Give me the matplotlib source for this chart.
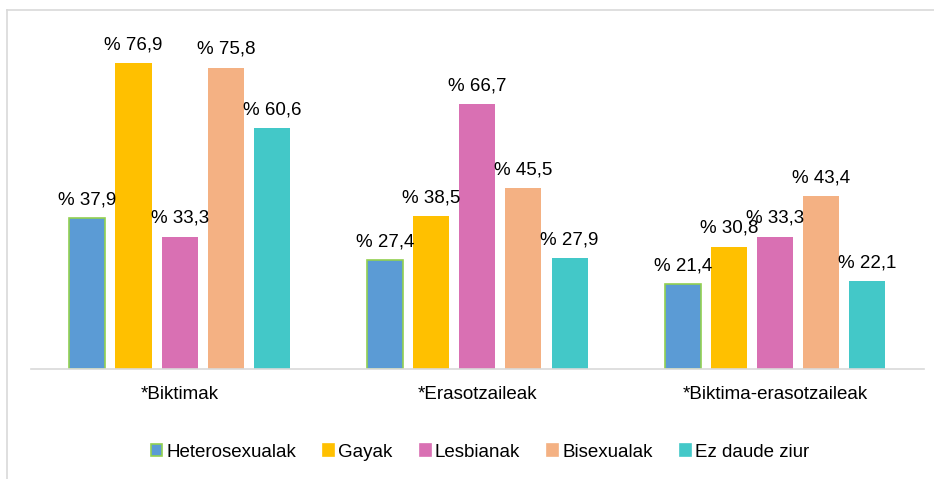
import numpy as np
import matplotlib
matplotlib.use('Agg')
import matplotlib.pyplot as plt
from matplotlib.lines import Line2D
from matplotlib.patches import Patch

# Datuak
categories = ['*Biktimak', '*Erasotzaileak', '*Biktima-erasotzaileak']
series_names = ['Heterosexualak', 'Gayak', 'Lesbianak', 'Bisexualak', 'Ez daude ziur']
hetero = [37.9, 27.4, 21.4]
gay = [76.9, 38.5, 30.8]
lesbian = [33.3, 66.7, 33.3]
bisexual = [75.8, 45.5, 43.4]
unsure = [60.6, 27.9, 22.1]

values = [hetero, gay, lesbian, bisexual, unsure]
colors = ['#5B9BD5', '#FFC000', '#D970B3', '#F4B183', '#43C8C8']

plt.rcParams['font.family'] = ['Liberation Sans', 'DejaVu Sans']
fs = 13.5

fig = plt.figure(figsize=(9.34, 4.79), dpi=100)
ax = fig.add_axes([0.033, 0.2296, 0.956, 0.747])

x = np.arange(len(categories))
width = 0.121
step = 0.155

for i, (vals, col) in enumerate(zip(values, colors)):
    pos = x + (i - 2) * step
    if i == 0:
        bars = ax.bar(pos, vals, width, color=col, edgecolor='#92D050', linewidth=1.2)
    else:
        bars = ax.bar(pos, vals, width, color=col)
    for b, v in zip(bars, vals):
        ax.annotate('% ' + f'{v:.1f}'.replace('.', ','),
                    (b.get_x() + b.get_width() / 2, v),
                    xytext=(0, 7), textcoords='offset points',
                    ha='center', va='bottom', fontsize=fs)

ax.set_xlim(-0.5, 2.5)
ax.set_ylim(0, 90)
ax.set_yticks([])
ax.set_xticks(x)
ax.set_xticklabels(categories, fontsize=fs)
ax.tick_params(axis='x', length=0, pad=12)
for s in ['top', 'right', 'left']:
    ax.spines[s].set_visible(False)
ax.spines['bottom'].set_color('#D9D9D9')
ax.spines['bottom'].set_linewidth(1.2)

handles = [Patch(facecolor=c, edgecolor=('#92D050' if i == 0 else c), linewidth=1.2)
           for i, c in enumerate(colors)]
fig.legend(handles, series_names, loc='center', bbox_to_anchor=(0.514, 0.056),
           ncol=5, frameon=False, fontsize=fs, handlelength=0.6, handleheight=0.6,
           handletextpad=0.2, columnspacing=1.45)

# rama
fig.add_artist(Line2D([7 / 934, 1], [1 - 10 / 479, 1 - 10 / 479], color='#D9D9D9', lw=1.2))
fig.add_artist(Line2D([7 / 934, 7 / 934], [0, 1 - 10 / 479], color='#D9D9D9', lw=1.2))

fig.savefig('out.png', dpi=100)
